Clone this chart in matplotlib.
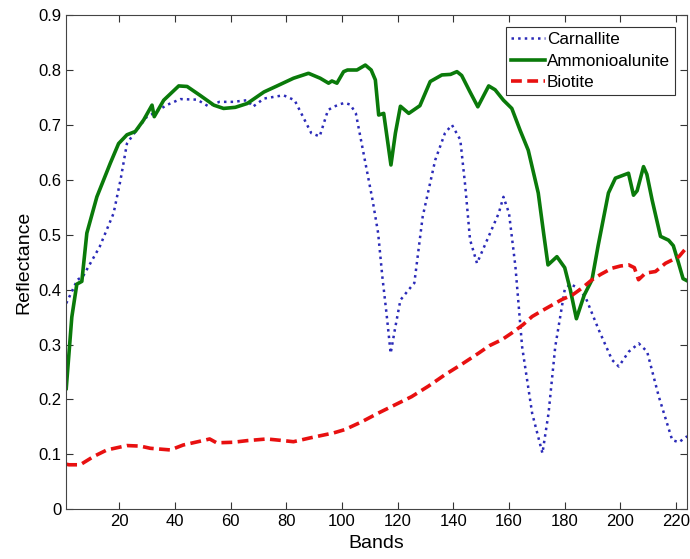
import matplotlib
matplotlib.use("Agg")
import matplotlib.pyplot as plt

plt.rcParams["font.family"] = ["Liberation Sans", "DejaVu Sans"]

# values, (band, reflectance)
carn_band = [1, 5, 7, 13, 18, 20.5, 22.8, 25, 30, 32, 37, 42, 48, 52, 56, 61, 66, 68,
             72, 79, 83, 86, 89, 92, 95, 97, 99.5, 101, 103, 105, 108, 111, 113, 114.5,
             116, 117.5, 119, 121, 124, 126, 129, 133.5, 137, 139.5, 142.5, 144.3,
             146, 148.5, 152.7, 156.3, 158, 160, 162.3, 164.7, 168.3, 172, 174.2,
             176.6, 180, 182, 184, 187.4, 192.2, 197, 199.4, 203, 206.6, 209.6, 213.8,
             218.6, 221, 224]
carn_val = [0.375, 0.418, 0.424, 0.478, 0.539, 0.60, 0.666, 0.682, 0.715, 0.72, 0.736,
            0.747, 0.746, 0.734, 0.742, 0.742, 0.745, 0.733, 0.748, 0.754, 0.745, 0.715,
            0.685, 0.679, 0.727, 0.733, 0.738, 0.74, 0.737, 0.721, 0.642, 0.563, 0.503,
            0.424, 0.357, 0.284, 0.327, 0.381, 0.40, 0.412, 0.533, 0.636, 0.685, 0.70,
            0.673, 0.588, 0.491, 0.448, 0.497, 0.539, 0.569, 0.539, 0.442, 0.296,
            0.175, 0.102, 0.175, 0.296, 0.40, 0.41, 0.405, 0.387, 0.327, 0.272, 0.26,
            0.287, 0.302, 0.287, 0.205, 0.126, 0.122, 0.133]

amm_band = [1, 3, 4.8, 6.6, 8.4, 12, 16.8, 19.8, 22.8, 25.8, 28.8, 31.8, 32.6, 36,
            41.4, 44.4, 49, 54, 57.5, 61.7, 66, 72, 76.7, 82.6, 88, 92.2, 95.2, 96.4,
            98.2, 100.6, 102, 105.4, 108.4, 110.5, 112, 113.2, 115, 117.6, 119.2, 121,
            124, 128, 131.7, 135.9, 139, 141.3, 143, 146, 148.8, 152.7, 155, 158, 161,
            164, 166.9, 170.5, 172.5, 174, 177.2, 180, 182, 184.2, 187, 189.8, 192,
            195.7, 198.2, 202.9, 204.7, 206, 208.3, 209.5, 211.4, 214.4, 217.3, 219,
            220.9, 222.5, 224]
amm_val = [0.22, 0.35, 0.41, 0.415, 0.503, 0.569, 0.63, 0.666, 0.682, 0.688, 0.709,
           0.736, 0.715, 0.745, 0.771, 0.770, 0.754, 0.736, 0.730, 0.732, 0.739, 0.76,
           0.771, 0.785, 0.794, 0.785, 0.776, 0.78, 0.776, 0.797, 0.80, 0.80, 0.809,
           0.80, 0.782, 0.718, 0.721, 0.627, 0.685, 0.734, 0.721, 0.735, 0.779, 0.791,
           0.792, 0.797, 0.79, 0.76, 0.733, 0.771, 0.764, 0.745, 0.73, 0.69, 0.654,
           0.576, 0.50, 0.445, 0.46, 0.44, 0.40, 0.347, 0.39, 0.418, 0.48, 0.576, 0.603,
           0.612, 0.572, 0.58, 0.624, 0.61, 0.563, 0.497, 0.49, 0.48, 0.448, 0.42, 0.416]

bio_band = [1, 2, 6, 10.8, 15.6, 22.8, 27.6, 31.2, 38.4, 43, 50.9, 52.5, 55, 61, 66,
            73, 79, 82.6, 88.6, 97, 101, 107, 113, 119, 125, 131, 137, 143, 149, 153,
            157.5, 161, 165, 168.3, 172, 175.5, 179, 182.7, 186, 189.8, 193, 197, 200,
            203, 205, 206.5, 209, 212.6, 216.2, 221, 224]
bio_val = [0.082, 0.081, 0.081, 0.096, 0.108, 0.116, 0.115, 0.111, 0.108, 0.117, 0.126,
           0.128, 0.121, 0.122, 0.125, 0.128, 0.125, 0.123, 0.13, 0.139, 0.145, 0.159,
           0.175, 0.19, 0.205, 0.224, 0.245, 0.264, 0.284, 0.298, 0.309, 0.321, 0.336,
           0.351, 0.362, 0.372, 0.382, 0.39, 0.402, 0.418, 0.428, 0.439, 0.443, 0.445,
           0.44, 0.418, 0.43, 0.433, 0.448, 0.46, 0.478]

fig = plt.figure(figsize=(6.9, 5.59), dpi=100)
ax = fig.add_axes([0.096, 0.089, 0.9, 0.884])

ax.plot(carn_band, carn_val, color="#2a2ab8", linestyle=":", linewidth=1.8,
        label="Carnallite")
ax.plot(amm_band, amm_val, color="#0a7a0a", linestyle="-", linewidth=2.6,
        label="Ammonioalunite")
ax.plot(bio_band, bio_val, color="#e81010", linestyle="--", linewidth=2.6,
        dashes=(3, 1.5), label="Biotite")

ax.set_xlim(1, 224)
ax.set_ylim(0, 0.9)
ax.set_xticks(range(20, 221, 20))
ax.set_yticks([i / 10 for i in range(10)])
ax.set_yticklabels(["0"] + [f"{i / 10:.1f}" for i in range(1, 10)])
ax.tick_params(direction="in", top=True, right=True, length=5, labelsize=12,
               color="#333333")
for s in ax.spines.values():
    s.set_color("#444444")

ax.set_xlabel("Bands", fontsize=14)
ax.set_ylabel("Reflectance", fontsize=14)

leg = ax.legend(loc="upper right", fontsize=12.3, fancybox=False, framealpha=1,
                edgecolor="#333333", handlelength=2.0, handletextpad=0.1,
                borderpad=0.3, labelspacing=0.38, borderaxespad=0.7)
leg.get_frame().set_linewidth(0.8)

fig.savefig("out.png", dpi=100)
